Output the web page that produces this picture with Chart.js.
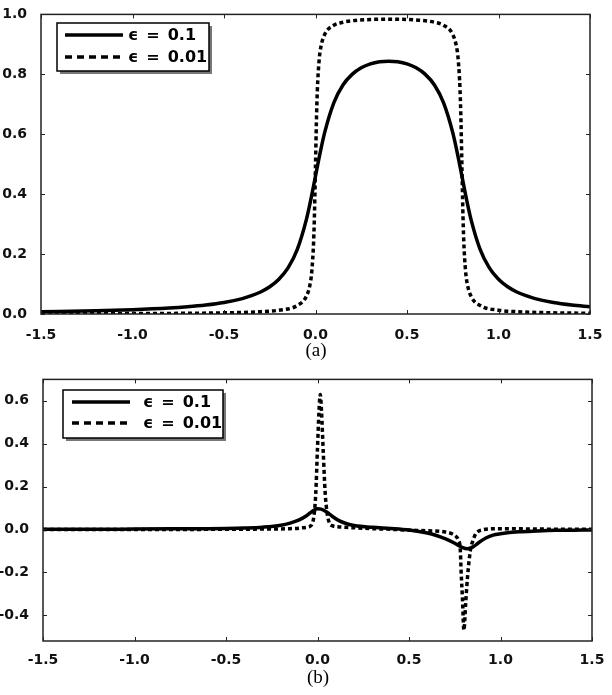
<!DOCTYPE html>
<html><head><meta charset="utf-8">
<script src="https://cdn.jsdelivr.net/npm/chart.js@4"></script>
<style>
html,body{margin:0;padding:0;background:#fff;}
#wrap{position:relative;width:612px;height:695px;overflow:hidden;}
canvas{position:absolute;left:0;display:block;}
</style></head><body>
<div id="wrap">
<canvas id="ca" width="612" height="365" style="top:0"></canvas>
<canvas id="cb" width="612" height="330" style="top:365px"></canvas>
</div>
<script>
// ---- tick labels ----
const xTicks = [-1.5, -1.0, -0.5, 0.0, 0.5, 1.0, 1.5];
const yTicksA = [0.0, 0.2, 0.4, 0.6, 0.8, 1.0];
const yTicksB = [-0.4, -0.2, 0.0, 0.2, 0.4, 0.6];
const seriesLabels = ['ϵ = 0.1', 'ϵ = 0.01'];
const captions = ['(a)', '(b)'];

// ---- panel (a), ε = 0.1 ----
const xA1 = [-1.5,-1.2,-1.0,-0.8,-0.7,-0.6,-0.5,-0.4,-0.35,-0.3,-0.25,-0.2,-0.15,-0.1,-0.05,-0.025,0,0.025,0.05,0.1,0.15,0.2,0.25,0.3,0.35,0.4,0.45,0.5,0.55,0.6,0.65,0.7,0.75,0.775,0.8,0.825,0.85,0.9,0.95,1.0,1.05,1.1,1.15,1.2,1.3,1.4,1.5];
const yA1 = [0.0074,0.0106,0.0141,0.0197,0.0240,0.0299,0.0384,0.0515,0.0610,0.0736,0.0909,0.1159,0.1538,0.2148,0.3151,0.3836,0.4604,0.5371,0.6054,0.7048,0.7642,0.7998,0.8216,0.8348,0.8418,0.8440,0.8418,0.8348,0.8216,0.7998,0.7642,0.7048,0.6054,0.5371,0.4604,0.3836,0.3151,0.2148,0.1538,0.1159,0.0909,0.0736,0.0610,0.0515,0.0384,0.0299,0.0240];
// ---- panel (a), ε = 0.01 ----
const xA2 = [-1.5,-1.0,-0.5,-0.3,-0.2,-0.1,-0.05,-0.03,-0.02,-0.01,-0.005,0,0.005,0.01,0.02,0.03,0.05,0.1,0.15,0.2,0.3,0.4,0.5,0.6,0.65,0.7,0.75,0.77,0.78,0.79,0.795,0.8,0.805,0.81,0.82,0.83,0.85,0.9,1.0,1.1,1.3,1.5];
const yA2 = [0.0007,0.0014,0.0039,0.0077,0.0127,0.0282,0.0591,0.0986,0.1437,0.2461,0.3485,0.4960,0.6436,0.7460,0.8483,0.8935,0.9329,0.9637,0.9739,0.9788,0.9830,0.9841,0.9830,0.9788,0.9739,0.9637,0.9329,0.8935,0.8483,0.7460,0.6436,0.4960,0.3485,0.2461,0.1437,0.0986,0.0591,0.0282,0.0127,0.0077,0.0039,0.0024];

// ---- panel (b), ε = 0.1 ----
const xB1 = [-1.5,-1.2,-1.0,-0.8,-0.6,-0.5,-0.4,-0.3,-0.2,-0.15,-0.1,-0.06,-0.03,0.0,0.02,0.05,0.08,0.12,0.16,0.2,0.3,0.4,0.5,0.6,0.65,0.7,0.75,0.79,0.82,0.85,0.88,0.92,0.96,1.0,1.1,1.2,1.3,1.4,1.5];
const yB1 = [0.001,0.001,0.002,0.003,0.004,0.005,0.007,0.011,0.02,0.03,0.045,0.064,0.084,0.097,0.095,0.082,0.062,0.04,0.027,0.019,0.01,0.005,-0.002,-0.016,-0.028,-0.044,-0.064,-0.083,-0.09,-0.081,-0.062,-0.04,-0.026,-0.02,-0.011,-0.007,-0.004,-0.003,-0.002];
// ---- panel (b), ε = 0.01 ----
const xB2 = [-1.5,-1.0,-0.5,-0.3,-0.15,-0.08,-0.05,-0.03,-0.02,-0.01,0.0,0.008,0.015,0.022,0.032,0.042,0.052,0.065,0.08,0.12,0.2,0.3,0.4,0.5,0.6,0.7,0.74,0.76,0.77,0.78,0.785,0.792,0.8,0.81,0.82,0.835,0.85,0.865,0.88,0.9,0.95,1.0,1.2,1.5];
const yB2 = [0,0,0.001,0.002,0.004,0.008,0.012,0.025,0.06,0.16,0.38,0.55,0.63,0.55,0.35,0.17,0.08,0.03,0.018,0.012,0.008,0.004,0.001,-0.003,-0.006,-0.012,-0.022,-0.035,-0.05,-0.09,-0.2,-0.32,-0.47,-0.34,-0.22,-0.1,-0.05,-0.02,-0.008,-0.002,0.003,0.004,0.002,0.001];

const pts = (xs, ys) => xs.map((x, i) => ({x, y: ys[i]}));
const TICKFONT = {family: 'DejaVu Sans', size: 14, weight: 'bold'};

const framePlugin = {
  id: 'frame',
  afterDatasetsDraw(chart, args, o) {
    const {ctx, chartArea: a, scales: {x, y}} = chart;
    ctx.save();
    ctx.strokeStyle = '#222';
    ctx.lineWidth = 1.5;
    ctx.strokeRect(a.left, a.top, a.right - a.left, a.bottom - a.top);
    ctx.lineWidth = 1;
    ctx.beginPath();
    x.ticks.forEach(t => {
      const p = Math.round(x.getPixelForValue(t.value)) + 0.5;
      ctx.moveTo(p, a.bottom); ctx.lineTo(p, a.bottom - 4);
      ctx.moveTo(p, a.top); ctx.lineTo(p, a.top + 4);
    });
    y.ticks.forEach(t => {
      const p = Math.round(y.getPixelForValue(t.value)) + 0.5;
      ctx.moveTo(a.left, p); ctx.lineTo(a.left + 4, p);
      ctx.moveTo(a.right, p); ctx.lineTo(a.right - 4, p);
    });
    ctx.stroke();

    // legend
    const L = o.legend;
    ctx.fillStyle = '#777';
    ctx.fillRect(L.x + 3, L.y + 3, L.w, L.h);
    ctx.fillStyle = '#fff';
    ctx.fillRect(L.x, L.y, L.w, L.h);
    ctx.strokeStyle = '#000';
    ctx.lineWidth = 1.5;
    ctx.strokeRect(L.x, L.y, L.w, L.h);
    chart.data.datasets.forEach((ds, i) => {
      const ly = L.rows[i];
      ctx.beginPath();
      ctx.lineWidth = ds.borderWidth;
      ctx.strokeStyle = ds.borderColor;
      ctx.setLineDash(i === 1 ? [7, 5] : []);
      ctx.moveTo(L.lineX0, ly); ctx.lineTo(L.lineX1, ly);
      ctx.stroke();
      ctx.setLineDash([]);
      ctx.fillStyle = '#000';
      ctx.font = 'bold 16px "DejaVu Sans"';
      ctx.textBaseline = 'middle';
      ctx.textAlign = 'left';
      let tx = L.textX;
      ds.label.split(' ').forEach(w => {
        ctx.fillText(w, tx, ly + 1);
        tx += ctx.measureText(w).width + 8;
      });
    });
    // caption
    ctx.font = '19px "Liberation Serif"';
    ctx.textAlign = 'center';
    ctx.textBaseline = 'middle';
    ctx.fillText(o.caption, o.capX, o.capY);
    ctx.restore();
  }
};

function makeChart(id, d1, d2, yMin, yMax, yTicks, geom) {
  return new Chart(document.getElementById(id), {
    type: 'line',
    data: {
      datasets: [
        {label: seriesLabels[0], data: d1, borderColor: '#000', borderWidth: 3.5, pointRadius: 0, fill: false, cubicInterpolationMode: 'monotone'},
        {label: seriesLabels[1], data: d2, borderColor: '#000', borderWidth: 3.5, borderDash: [4, 3], pointRadius: 0, fill: false, cubicInterpolationMode: 'monotone'}
      ]
    },
    options: {
      responsive: false, animation: false, devicePixelRatio: 1,
      layout: {padding: {left: 0, right: geom.right, top: geom.top, bottom: 0}},
      plugins: {legend: {display: false}, tooltip: {enabled: false},
        frame: {legend: geom.legend, caption: geom.caption, capX: geom.capX, capY: geom.capY}},
      scales: {
        x: {type: 'linear', min: -1.5, max: 1.5,
          afterBuildTicks: s => { s.ticks = xTicks.map(v => ({value: v})); },
          afterFit: s => { s.height = geom.xh; },
          grid: {display: false}, border: {display: false},
          ticks: {padding: geom.xpad, color: '#111', font: TICKFONT, maxRotation: 0, autoSkip: false,
            callback: v => Number(v).toFixed(1)}},
        y: {type: 'linear', min: yMin, max: yMax,
          afterBuildTicks: s => { s.ticks = yTicks.map(v => ({value: v})); },
          afterFit: s => { s.width = geom.yw; },
          grid: {display: false}, border: {display: false},
          ticks: {padding: 6, color: '#111', font: TICKFONT, autoSkip: false,
            callback: v => Number(v).toFixed(1)}}
      }
    },
    plugins: [framePlugin]
  });
}

makeChart('ca', pts(xA1, yA1), pts(xA2, yA2), 0, 1.0, yTicksA, {
  right: 22, top: 13, xh: 51, yw: 41, xpad: 5,
  legend: {x: 57, y: 23, w: 152, h: 48, rows: [35, 57], lineX0: 65, lineX1: 123, textX: 128},
  caption: captions[0], capX: 316, capY: 351
});
makeChart('cb', pts(xB1, yB1), pts(xB2, yB2), -0.52, 0.7, yTicksB, {
  right: 20, top: 12, xh: 54, yw: 43, xpad: 3,
  legend: {x: 63, y: 25, w: 160, h: 48, rows: [37, 58], lineX0: 72, lineX1: 130, textX: 143},
  caption: captions[1], capX: 318, capY: 313
});
</script>
</body></html>
